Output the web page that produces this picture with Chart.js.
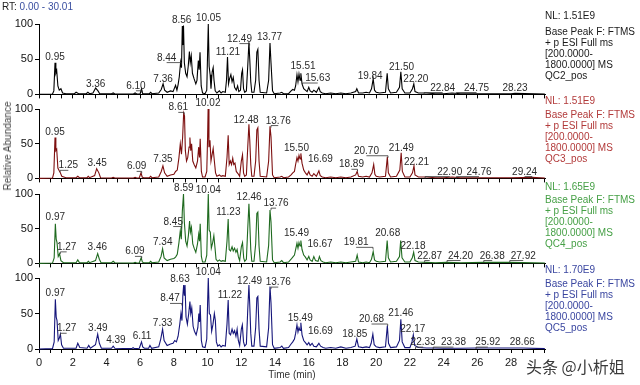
<!DOCTYPE html>
<html><head><meta charset="utf-8">
<script src="https://cdn.jsdelivr.net/npm/chart.js@4.4.0/dist/chart.umd.min.js"></script>
<style>
html,body{margin:0;padding:0;background:#fff;width:640px;height:385px;overflow:hidden;font-family:"Liberation Sans",Arial,sans-serif;}
#wrap{position:relative;width:640px;height:385px;}
canvas{position:absolute;left:0;}
.t{position:absolute;font-size:10px;white-space:nowrap;line-height:12px;}
.xl{position:absolute;font-size:11px;line-height:12px;color:#1a1a1a;transform:translateX(-50%);white-space:nowrap;}
</style></head><body><div id="wrap"></div>
<script>
// ---------- data ----------
const timeTickLabels = [0,2,4,6,8,10,12,14,16,18,20,22,24,26,28];
const abundanceTicks = [0,50,100];
const sampleNames = ["QC2_pos","QC3_pos","QC4_pos","QC5_pos"];
const normLevels = ["1.51E9","1.51E9","1.65E9","1.70E9"];
const scanFilter = ["Base Peak F: FTMS","+ p ESI Full ms","[200.0000-","1800.0000] MS"];

const qc2 = [[0,0],[0.8,0.5],[0.88,5],[0.95,45],[1.0,30],[1.05,34],[1.12,12],[1.2,6],[1.3,8],[1.4,2],[1.6,1],[2.1,1],[2.2,3],[2.35,1],[2.8,1],[2.9,3],[3.0,1],[3.2,2],[3.36,9],[3.5,5],[3.6,1],[4.3,1],[4.4,2],[4.5,0.5],[5.6,0.5],[5.7,2],[5.8,0.5],[6.0,1],[6.08,8],[6.15,1],[6.55,1],[6.62,3],[6.7,1],[7.1,2],[7.25,7],[7.36,15],[7.45,6],[7.6,3],[7.8,5],[7.95,4],[8.1,13],[8.18,6],[8.25,14],[8.32,25],[8.40,46],[8.45,38],[8.50,97],[8.53,70],[8.57,98],[8.62,45],[8.70,30],[8.78,25],[8.85,40],[8.92,61],[8.97,45],[9.03,55],[9.10,30],[9.2,22],[9.3,15],[9.37,20],[9.45,48],[9.50,35],[9.55,60],[9.62,12],[9.7,2],[9.85,1],[9.95,6],[10.0,60],[10.04,100],[10.09,40],[10.15,28],[10.2,8],[10.27,32],[10.33,38],[10.38,20],[10.45,5],[10.55,2],[10.7,5],[10.8,2],[10.9,4],[11.05,3],[11.12,20],[11.18,53],[11.24,15],[11.3,22],[11.38,28],[11.45,18],[11.52,24],[11.6,10],[11.7,6],[11.78,12],[11.85,4],[11.95,6],[12.02,30],[12.07,35],[12.13,8],[12.2,3],[12.3,5],[12.38,40],[12.45,74],[12.5,50],[12.56,18],[12.62,3],[12.75,3],[12.85,20],[12.92,60],[12.98,64],[13.05,20],[13.12,3],[13.5,2],[13.62,20],[13.7,73],[13.76,45],[13.85,5],[13.95,1],[14.3,2],[14.4,3],[14.5,1],[14.8,1],[14.95,5],[15.05,7],[15.15,6],[15.22,12],[15.3,28],[15.36,18],[15.42,29],[15.48,20],[15.53,30],[15.6,15],[15.7,8],[15.8,6],[15.9,4],[16.0,10],[16.08,5],[16.2,3],[16.3,6],[16.45,3],[16.6,10],[16.68,4],[16.8,2],[17.0,1],[17.3,2],[17.6,1],[17.9,2],[18.2,1],[18.5,2],[18.78,4],[18.85,8],[18.95,2],[19.2,2],[19.4,3],[19.6,2],[19.72,8],[19.82,22],[19.9,6],[20.0,3],[20.2,2],[20.55,3],[20.65,30],[20.72,8],[20.85,2],[21.2,3],[21.38,10],[21.46,32],[21.54,8],[21.7,2],[22.0,2],[22.15,8],[22.23,15],[22.3,4],[22.5,2],[23.0,2],[23.5,1],[24.0,1],[24.5,2],[25,1],[26,1],[28,1],[28.23,1.5],[30,0.5]];

const qc3 = [[0,0],[0.8,0.5],[0.88,8],[0.95,59],[1.0,40],[1.05,42],[1.12,15],[1.2,11],[1.25,9],[1.35,3],[1.6,1],[2.2,1],[2.3,3],[2.4,1],[2.85,1],[2.92,3],[3.0,1],[3.3,4],[3.42,14],[3.55,8],[3.65,1],[4.3,0.5],[4.4,1.5],[4.5,0.5],[5.6,0.5],[5.7,1.5],[5.8,0.5],[5.95,1],[6.05,8],[6.12,2],[6.2,1],[6.55,1],[6.62,3],[6.7,1],[7.1,2],[7.25,10],[7.35,18],[7.45,8],[7.6,3],[7.8,5],[8.0,6],[8.1,10],[8.2,12],[8.3,30],[8.38,50],[8.45,35],[8.52,60],[8.58,94],[8.63,90],[8.68,40],[8.75,25],[8.82,30],[8.9,45],[8.95,59],[9.0,40],[9.05,50],[9.12,25],[9.2,20],[9.3,15],[9.4,25],[9.47,45],[9.52,30],[9.56,57],[9.63,10],[9.7,2],[9.85,2],[9.95,10],[10.0,60],[10.03,100],[10.08,45],[10.14,55],[10.2,25],[10.27,35],[10.33,43],[10.4,25],[10.47,8],[10.55,3],[10.7,5],[10.8,3],[10.9,4],[11.05,3],[11.15,30],[11.22,62],[11.28,20],[11.35,25],[11.42,20],[11.49,29],[11.55,20],[11.62,22],[11.7,10],[11.8,7],[11.9,3],[12.0,25],[12.07,34],[12.13,8],[12.2,3],[12.3,5],[12.38,45],[12.45,78],[12.5,55],[12.56,20],[12.62,3],[12.75,3],[12.85,25],[12.92,70],[12.98,73],[13.05,25],[13.12,3],[13.5,2],[13.62,25],[13.7,75],[13.76,60],[13.85,5],[13.95,1],[14.3,2],[14.4,3],[14.5,1],[14.8,2],[14.95,5],[15.05,8],[15.15,10],[15.22,20],[15.3,30],[15.36,25],[15.42,33],[15.48,28],[15.53,36],[15.6,22],[15.7,12],[15.8,8],[15.9,5],[16.0,10],[16.08,5],[16.2,3],[16.3,7],[16.45,3],[16.6,11],[16.68,4],[16.8,2],[17.0,1],[17.3,2],[17.6,1],[17.9,2],[18.2,1],[18.5,2],[18.78,5],[18.87,10],[18.95,3],[19.2,2],[19.4,3],[19.6,2],[19.75,8],[19.85,20],[19.92,6],[20.0,3],[20.2,2],[20.55,3],[20.66,31],[20.72,8],[20.85,2],[21.2,3],[21.4,12],[21.48,37],[21.55,10],[21.7,2],[22.0,2],[22.15,8],[22.24,18],[22.3,5],[22.5,2],[23.0,2],[23.5,1],[24.0,1],[24.5,2],[25,1],[26,1],[28,1],[29.24,1.5],[30,0.5]];

const qc4 = [[0,0],[0.8,0.5],[0.9,8],[0.97,57],[1.02,35],[1.07,30],[1.14,10],[1.22,14],[1.3,4],[1.45,1],[2.2,1],[2.3,5],[2.4,1],[2.85,1],[2.93,3],[3.0,1],[3.35,4],[3.48,14],[3.58,6],[3.68,1],[4.3,1],[4.4,3],[4.5,1],[5.6,0.5],[5.7,1.5],[5.8,0.5],[5.95,1],[6.06,8],[6.13,2],[6.2,1],[6.55,1],[6.62,3],[6.7,1],[7.1,2],[7.24,10],[7.33,21],[7.42,8],[7.6,4],[7.8,6],[8.0,7],[8.1,9],[8.2,13],[8.3,30],[8.38,47],[8.44,35],[8.5,75],[8.57,100],[8.62,60],[8.7,32],[8.78,25],[8.86,40],[8.93,61],[8.98,45],[9.04,52],[9.12,28],[9.2,22],[9.3,16],[9.4,28],[9.47,42],[9.52,32],[9.56,57],[9.63,10],[9.7,2],[9.85,2],[9.95,12],[10.0,62],[10.04,100],[10.09,48],[10.16,45],[10.22,22],[10.3,30],[10.37,40],[10.44,22],[10.5,6],[10.6,3],[10.7,5],[10.8,3],[10.9,4],[11.05,3],[11.15,32],[11.22,64],[11.28,20],[11.36,18],[11.45,24],[11.52,18],[11.6,22],[11.68,16],[11.75,20],[11.82,10],[11.9,4],[12.0,24],[12.07,30],[12.14,8],[12.2,3],[12.3,6],[12.38,50],[12.45,86],[12.5,58],[12.56,20],[12.62,3],[12.75,3],[12.85,28],[12.92,72],[12.98,74],[13.05,25],[13.12,3],[13.5,2],[13.62,26],[13.7,77],[13.76,60],[13.85,5],[13.95,1],[14.3,2],[14.4,4],[14.5,1],[14.8,2],[14.95,6],[15.05,9],[15.15,12],[15.22,20],[15.3,29],[15.36,22],[15.42,30],[15.48,25],[15.53,33],[15.6,20],[15.7,12],[15.8,9],[15.9,5],[16.0,10],[16.08,5],[16.2,3],[16.3,10],[16.4,4],[16.55,3],[16.63,10],[16.72,4],[16.85,2],[17.0,1],[17.3,2],[17.6,1],[17.9,2],[18.2,1],[18.5,2],[18.78,3],[18.87,12],[18.95,2],[19.2,1],[19.4,2],[19.6,1],[19.72,6],[19.82,17],[19.9,5],[20.0,3],[20.2,2],[20.55,3],[20.65,33],[20.72,8],[20.85,2],[21.2,3],[21.38,10],[21.45,33],[21.53,8],[21.7,2],[22.0,2],[22.14,8],[22.22,16],[22.3,4],[22.5,2],[23.0,1.5],[23.5,1],[24.2,1.5],[25,1],[26.38,1.5],[27.92,1.5],[30,0.5]];

const qc5 = [[0,0],[0.8,0.5],[0.9,10],[0.97,70],[1.02,45],[1.07,40],[1.14,12],[1.2,15],[1.27,21],[1.34,6],[1.45,1],[2.2,1],[2.3,8],[2.42,2],[2.85,1],[2.95,5],[3.05,1],[3.35,6],[3.48,21],[3.58,8],[3.7,1],[4.3,1],[4.4,4],[4.5,1],[5.5,0.5],[5.58,2],[5.66,0.5],[5.95,1],[6.08,10],[6.15,3],[6.25,1],[6.5,1],[6.58,5],[6.68,1],[7.1,3],[7.22,14],[7.33,28],[7.42,12],[7.6,5],[7.8,7],[7.95,8],[8.05,12],[8.15,10],[8.25,18],[8.35,35],[8.42,50],[8.48,40],[8.53,75],[8.58,90],[8.62,75],[8.66,90],[8.72,45],[8.8,35],[8.88,50],[8.95,67],[9.0,50],[9.06,58],[9.14,32],[9.22,25],[9.32,20],[9.42,30],[9.48,50],[9.52,38],[9.56,62],[9.63,12],[9.7,3],[9.85,2],[9.95,14],[10.0,65],[10.04,100],[10.1,50],[10.17,48],[10.24,25],[10.32,35],[10.4,50],[10.46,40],[10.52,10],[10.6,4],[10.7,6],[10.8,3],[10.9,5],[11.05,4],[11.15,35],[11.22,69],[11.28,22],[11.36,20],[11.45,28],[11.52,22],[11.6,26],[11.68,18],[11.75,28],[11.82,12],[11.9,5],[12.0,28],[12.06,34],[12.13,10],[12.2,4],[12.3,7],[12.38,55],[12.45,90],[12.5,62],[12.56,22],[12.62,4],[12.75,4],[12.85,30],[12.92,72],[12.98,74],[13.05,28],[13.12,4],[13.5,3],[13.62,30],[13.7,88],[13.76,65],[13.85,6],[13.95,1],[14.3,2],[14.4,4],[14.5,1],[14.8,2],[14.95,7],[15.05,10],[15.15,14],[15.22,22],[15.3,34],[15.36,24],[15.42,30],[15.48,26],[15.53,37],[15.6,20],[15.7,12],[15.8,9],[15.9,6],[16.0,9],[16.08,5],[16.2,8],[16.3,4],[16.45,3],[16.6,8],[16.7,4],[16.85,2],[17.0,1],[17.3,2],[17.6,1],[17.9,3],[18.2,1],[18.5,2],[18.75,4],[18.85,14],[18.95,3],[19.2,2],[19.4,3],[19.6,2],[19.7,8],[19.8,21],[19.88,6],[20.0,3],[20.2,2],[20.55,3],[20.66,33],[20.73,8],[20.85,2],[21.2,3],[21.38,12],[21.46,42],[21.54,10],[21.7,2],[22.0,2],[22.12,10],[22.2,20],[22.28,5],[22.5,2],[23.0,1.5],[23.38,1.5],[24,1],[25,1],[25.92,1.5],[28.66,1.5],[30,0.5]];

// peak labels (text = retention time)
const qc2Peaks = ["0.95","3.36","6.10","7.36","8.44","8.56","10.05","11.21","12.49","13.77","15.51","15.63","19.84","21.50","22.20","22.84","24.75","28.23"];
const qc3Peaks = ["0.95","1.25","3.45","6.09","7.35","8.61","10.02","12.48","13.76","15.50","16.69","18.89","20.70","21.49","22.21","22.90","24.76","29.24"];
const qc4Peaks = ["0.97","1.27","3.46","6.09","7.34","8.45","8.59","10.04","11.23","12.46","13.76","15.49","16.67","19.81","20.68","22.18","22.87","24.20","26.38","27.92"];
const qc5Peaks = ["0.97","1.27","3.49","4.39","6.11","7.33","8.47","8.63","10.04","11.22","12.49","13.76","15.49","16.69","18.85","20.68","21.46","22.17","22.33","23.38","25.92","28.66"];

// ---------- layout (label placement: [level %, shift min]) ----------
const qc2Place = [[49,0],[11,0],[8,-0.35],[18,0],[48,-0.87],[101,-0.1],[104,0],[55.5,0],[75,-0.6],[77.5,-0.1],[35.5,0.15],[19,0.9],[22.5,-0.2],[34,0],[18,0.15],[5.5,1.1],[5.5,1.2],[5.5,0]];
const qc3Place = [[62.5,0],[14.5,0.49],[18,0],[13,-0.3],[23,0],[98,-0.35],[105,0],[80.5,-0.2],[79,0.43],[39,-0.23],[23.5,0],[16,-0.36],[35.5,-1.28],[40,0],[19.5,0.18],[5.5,1.46],[5.5,1.34],[5.5,-0.44]];
const qc4Place = [[63,0],[19.5,0.37],[19.5,0],[13,-0.4],[26.5,0],[56,-0.49],[105,0],[102,0],[70,0],[91.5,0],[82.5,0.3],[40,-0.22],[23,0],[26,-1.0],[40,0],[21,0],[7,0.3],[7,0.8],[7,0.5],[7,0.8]];
const qc5Place = [[74.5,0],[25,0.37],[25,0],[8.5,0.17],[14,0],[32,0],[67,-0.7],[94,-0.27],[104,0],[72,0.1],[91.5,0],[90,0.43],[40,0],[21,0],[17,-0.12],[38,-0.96],[47,0],[24.5,0],[5.5,0.45],[5.5,1.2],[5.5,0.7],[5.5,0]];

const FONT = '"Liberation Sans", Arial, sans-serif';
const panels = [
  {data:qc2, peaks:qc2Peaks, place:qc2Place, line:'#000000', text:'#1a1a1a', top:24, bottom:97, nl:16, base:32},
  {data:qc3, peaks:qc3Peaks, place:qc3Place, line:'#7d0f0f', text:'#b23a3a', top:109, bottom:181, nl:101, base:115},
  {data:qc4, peaks:qc4Peaks, place:qc4Place, line:'#1f6a1f', text:'#46a046', top:194, bottom:266, nl:187, base:200},
  {data:qc5, peaks:qc5Peaks, place:qc5Place, line:'#15157a', text:'#3a46a0', top:278, bottom:349, nl:270, base:284}
];

const peakLabelPlugin = {
  id:'peakLabels',
  afterDatasetsDraw(chart, args, opts){
    const {ctx} = chart; const x = chart.scales.x, y = chart.scales.y;
    ctx.save();
    ctx.font = '10px ' + FONT;
    ctx.fillStyle = '#2a2a2a'; ctx.strokeStyle = '#333'; ctx.lineWidth = 0.8;
    ctx.textAlign = 'center'; ctx.textBaseline = 'alphabetic';
    opts.peaks.forEach((txt,i)=>{
      const rt = parseFloat(txt); const [lvl, sh] = opts.place[i];
      const px = x.getPixelForValue(rt + sh), py = y.getPixelForValue(lvl);
      ctx.fillText(txt, px, py);
      if (Math.abs(sh) >= 0.3) {
        const pk = x.getPixelForValue(rt);
        ctx.beginPath(); ctx.moveTo(px, py + 2); ctx.lineTo(pk, py + 2); ctx.lineTo(pk, py + 4); ctx.stroke();
      }
    });
    ctx.restore();
  }
};

// minor tick positions: each 2-min label interval split in thirds
function timeTicks(){
  const out = [];
  for (let i = 0; i < timeTickLabels.length; i++) {
    const a = timeTickLabels[i], b = (i + 1 < timeTickLabels.length) ? timeTickLabels[i+1] : a + 2;
    for (let k = 0; k < 3; k++) out.push({value: a + (b - a) * k / 3});
  }
  out.push({value: timeTickLabels[timeTickLabels.length-1] + 2});
  return out;
}

const wrap = document.getElementById('wrap');
const charts = [];
panels.forEach((p, idx)=>{
  const last = idx === panels.length - 1;
  const padTop = 20;
  const xh = last ? 36 : 6;
  const h = padTop + (p.bottom - p.top) + xh;
  const cv = document.createElement('canvas');
  cv.width = 640; cv.height = h; cv.style.top = (p.top - padTop) + 'px';
  wrap.appendChild(cv);
  const ch = new Chart(cv.getContext('2d'), {
    type:'line',
    data:{datasets:[{data:p.data.map(([t,v])=>({x:t,y:v})), borderColor:p.line, borderWidth:1.1, pointRadius:0, fill:false, tension:0, clip:false}]},
    plugins:[peakLabelPlugin],
    options:{
      responsive:false, animation:false, events:[],
      layout:{padding:{top:padTop, right:95, left:0, bottom:0}},
      plugins:{legend:{display:false}, tooltip:{enabled:false}, peakLabels:{peaks:p.peaks, place:p.place}},
      scales:{
        x:{type:'linear', min:0, max:30.01,
           afterBuildTicks(s){ s.ticks = timeTicks(); },
           ticks:{display:false, autoSkip:false},
           grid:{drawOnChartArea:false, drawTicks:true, tickLength:4, color:'#000', tickColor:'#000'},
           border:{color:'#000', width:1},
           title:{display:last, text:'Time (min)', color:'#333', font:{size:10, family:FONT}, padding:{top:0,bottom:4}},
           afterFit(s){ s.height = xh; }},
        y:{min:0, max:100,
           afterBuildTicks(s){ s.ticks = abundanceTicks.map(v=>({value:v})); },
           ticks:{color:'#111', padding:2, font:{size:11, family:FONT}},
           grid:{drawOnChartArea:false, tickLength:4, color:'#000', tickColor:'#000'},
           border:{color:'#000', width:1},
           afterFit(s){ s.width = 39; }}
      }
    }
  });
  charts.push({ch, top:p.top - padTop});
  // side annotation text
  const addT = (txt, yc, color)=>{ const d=document.createElement('div'); d.className='t'; d.textContent=txt; d.style.left='545px'; d.style.top=(yc-6)+'px'; d.style.color=color; wrap.appendChild(d); };
  addT('NL: ' + normLevels[idx], p.nl, p.text);
  scanFilter.forEach((s,k)=> addT(s, p.base + k*11, p.text));
  addT(sampleNames[idx], p.base + 4*11, p.text);
});

// time-axis tick labels, positioned through the bottom chart's x scale
(function(){
  const {ch, top} = charts[charts.length - 1];
  const xs = ch.scales.x;
  timeTickLabels.forEach(v=>{
    const d = document.createElement('div'); d.className = 'xl'; d.textContent = String(v);
    d.style.left = xs.getPixelForValue(v) + 'px';
    d.style.top = (top + xs.top + 7) + 'px';
    wrap.appendChild(d);
  });
})();

// header, axis title, watermark
const hdr = document.createElement('div'); hdr.className='t'; hdr.style.left='2px'; hdr.style.top='1px';
hdr.innerHTML = '<span style="color:#222">RT:</span> <span style="color:#3a4fa0">0.00 - 30.01</span>';
wrap.appendChild(hdr);
const yt = document.createElement('div'); yt.className='t'; yt.textContent='Relative Abundance';
yt.style.color='#444'; yt.style.left='8px'; yt.style.top='146px';
yt.style.transform='translate(-50%,-50%) rotate(-90deg)'; wrap.appendChild(yt);
const wm = document.createElement('div'); wm.className='t'; wm.textContent='头条 @小析姐';
wm.style.fontFamily='"Noto Sans CJK SC", sans-serif'; wm.style.fontSize='16px'; wm.style.lineHeight='20px';
wm.style.color='#3a3a3a'; wm.style.left='526px'; wm.style.top='356px'; wm.style.textShadow='0 0 2px #fff';
wrap.appendChild(wm);
</script></body></html>
